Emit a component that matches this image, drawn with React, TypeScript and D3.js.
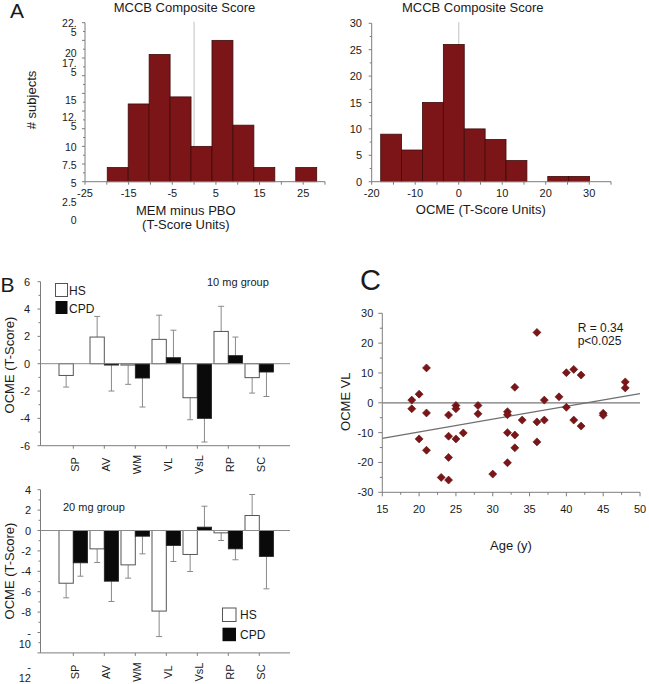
import React from "react";
import * as d3 from "d3";

// ---------------- Panel A data ----------------
const memBinStart = -19.9;
const memBinWidth = 4.8;
const memCounts = [2, 11, 18, 12, 5, 20, 8, 2, 0, 2];
const memXTickLabels = [-25, -15, -5, 5, 15, 25];
const memYTickLabelLines = [["22.", "5"], ["20"], ["17.", "5"], ["15"], ["12.", "5"], ["10"], ["7.5"], ["5"], ["2.5"], ["0"]];

const ocmeBinStart = -17.93;
const ocmeBinWidth = 4.8;
const ocmeCounts = [9, 6, 15, 26, 10, 8, 4, 0, 1, 1];
const ocmeXTickLabels = [-20, -10, 0, 10, 20, 30];
const ocmeYTickLabels = [0, 5, 10, 15, 20, 25, 30];

// ---------------- Panel B data ----------------
const domains = ["SP", "AV", "WM", "VL", "VsL", "RP", "SC"];
const hs10 = [-0.86, 1.95, -0.1, 1.78, -2.49, 2.36, -1.02];
const hs10Err = [0.85, 1.51, 1.41, 1.77, 1.61, 1.84, 1.13];
const cpd10 = [0, -0.1, -1.05, 0.44, -4.0, 0.59, -0.61];
const cpd10Err = [0, 1.9, 2.12, 2.01, 1.73, 1.36, 1.79];
const hs20 = [-5.17, -1.8, -3.37, -7.9, -2.35, -0.23, 1.47];
const hs20Err = [1.43, 1.34, 1.3, 2.5, 1.67, 0.75, 2.06];
const cpd20 = [-3.17, -4.97, -0.56, -1.47, 0.33, -1.8, -2.55];
const cpd20Err = [1.31, 1.99, 1.73, 1.57, 2.05, 1.07, 3.17];
const bTopYTicks = [6, 4, 2, 0, -2, -4, -6];
const bBottomYTickLabelLines = [["4"], ["2"], ["0"], ["-2"], ["-4"], ["-6"], ["-8"], ["-", "10"], ["-", "12"]];
const bBottomYTickValues = [4, 2, 0, -2, -4, -6, -8, -10, -12];

// ---------------- Panel C data ----------------
const ages = [19, 19, 20, 20, 21, 21, 21, 23, 24, 24, 24, 24, 25, 25, 25, 26, 28, 28, 30, 32, 32, 32, 32, 33, 33, 33, 34, 36, 36, 36, 37, 37, 39, 40, 40, 41, 41, 42, 42, 45, 45, 48, 48];
const ocmeVL = [0.9, -2.0, 2.9, -12.1, 11.7, -3.4, -15.9, -25.0, -4.1, -11.2, -18.3, -25.9, -0.9, -2.0, -12.1, -10.1, -0.9, -3.7, -23.9, -3.0, -4.0, -10.0, -20.1, 5.2, -10.8, -15.1, -5.8, 23.6, -6.4, -13.1, 0.9, -5.8, 2.0, 10.1, -1.5, 11.2, -5.8, 9.3, -7.8, -3.5, -4.2, 7.0, 5.0];
const regressionLine: [number, number][] = [[15, -11.9], [50, 3.1]];
const corrText = ["R = 0.34", "p<0.025"];
const cXTicks = [15, 20, 25, 30, 35, 40, 45, 50];
const cYTicks = [30, 20, 10, 0, -10, -20, -30];

const FONT = "'Liberation Sans', Arial, Helvetica, sans-serif";
const RED = "#7c1517";
const RED_EDGE = "#3e0b0b";
const AXIS = "#7d7d7d";
const TXT = "#1a1a1a";

function Histogram({ counts, start, width, x, y, x0Axis, x1Axis, xTickMin, xTickMax, yMajor, yMinor }: any) {
  const [yb, yt] = y.range();
  const xTicks = d3.range(xTickMin, xTickMax + 0.01, 5);
  return (
    <g>
      <line x1={x(0)} x2={x(0)} y1={yt - 1} y2={yb} stroke="#cfcfcf" strokeWidth={1.3} />
      {counts.map((c: number, i: number) =>
        c > 0 ? (
          <rect key={i} x={x(start + i * width)} width={x(start + (i + 1) * width) - x(start + i * width)} y={y(c)} height={y(0) - y(c)} fill={RED} stroke={RED_EDGE} strokeWidth={0.8} />
        ) : null
      )}
      <line x1={x0Axis} x2={x0Axis} y1={yt} y2={yb} stroke={AXIS} strokeWidth={1} />
      <line x1={x0Axis} x2={x1Axis} y1={yb} y2={yb} stroke={AXIS} strokeWidth={1} />
      {xTicks.map((t: number) => (
        <line key={"xt" + t} x1={x(t)} x2={x(t)} y1={yb} y2={yb + 3} stroke={AXIS} />
      ))}
      {yMajor.map((t: number) => (
        <line key={"ym" + t} x1={x0Axis - 3} x2={x0Axis} y1={y(t)} y2={y(t)} stroke={AXIS} />
      ))}
      {yMinor.map((t: number) => (
        <line key={"yn" + t} x1={x0Axis - 2} x2={x0Axis} y1={y(t)} y2={y(t)} stroke={AXIS} />
      ))}
    </g>
  );
}

function BarPanel({ y, hs, hsErr, cpd, cpdErr, yMin, yMax, x }: any) {
  const axisX = 40.5;
  const right = 290;
  const bw = 14.3;
  const errLine = (cx: number, v: number, e: number, k: string) => {
    if (!e) return null;
    const end = v + (v >= 0 ? e : -e);
    return (
      <g key={k}>
        <line x1={cx} x2={cx} y1={y(v)} y2={y(end)} stroke="#8a8a8a" strokeWidth={1} />
        <line x1={cx - 3} x2={cx + 3} y1={y(end)} y2={y(end)} stroke="#8a8a8a" strokeWidth={1} />
      </g>
    );
  };
  return (
    <g>
      {domains.map((d, i) => {
        const cx = x(d);
        const h = hs[i];
        const c = cpd[i];
        return (
          <g key={d}>
            {errLine(cx - bw / 2, h, hsErr[i], "he")}
            {errLine(cx + bw / 2, c, cpdErr[i], "ce")}
            {h !== 0 && (
              <rect x={cx - bw} width={bw} y={y(Math.max(h, 0))} height={Math.max(0.8, Math.abs(y(h) - y(0)))} fill="#ffffff" stroke="#555" strokeWidth={1} />
            )}
            {c !== 0 && (
              <rect x={cx} width={bw} y={y(Math.max(c, 0))} height={Math.max(0.8, Math.abs(y(c) - y(0)))} fill="#0a0a0a" stroke="#222" strokeWidth={0.8} />
            )}
          </g>
        );
      })}
      <line x1={axisX} x2={right} y1={y(0)} y2={y(0)} stroke="#8a8a8a" strokeWidth={1} />
      <line x1={axisX} x2={axisX} y1={y(yMax)} y2={y(yMin)} stroke={AXIS} strokeWidth={1} />
      <line x1={axisX} x2={right} y1={y(yMin)} y2={y(yMin)} stroke={AXIS} strokeWidth={1} />
      {d3.range(yMin, yMax + 0.01, 1).map((t) => (
        <line key={"t" + t} x1={axisX - (t % 2 === 0 ? 3 : 2)} x2={axisX} y1={y(t)} y2={y(t)} stroke={AXIS} />
      ))}
      {domains.map((d) => (
        <line key={"xt" + d} x1={x(d)} x2={x(d)} y1={y(yMin)} y2={y(yMin) + 3} stroke={AXIS} />
      ))}
    </g>
  );
}

export default function App() {
  // Panel A scales
  const xL = d3.scaleLinear().domain([-25, 30]).range([85, 325]);
  const yL = d3.scaleLinear().domain([0, 22.5]).range([181.7, 22.7]);
  const xR = d3.scaleLinear().domain([-20, 35]).range([371.7, 611]);
  const yR = d3.scaleLinear().domain([0, 30]).range([181.7, 23.3]);
  const memLabelCenters = [22.7, 53.3, 62.5, 100, 117.3, 146.7, 165, 182.7, 201.7, 220];

  // Panel B scales
  const xB = d3.scalePoint<string>().domain(domains).range([73.3, 259.3]);
  const yBT = d3.scaleLinear().domain([-6, 6]).range([445.7, 281.7]);
  const yBB = d3.scaleLinear().domain([-12, 4]).range([652.9, 489.7]);
  const bottomLabelShift = [0, 0, 0, 0, 0, 0, 0, 0, 14];

  // Panel C scales
  const xC = d3.scaleLinear().domain([15, 50]).range([382.3, 640]);
  const yC = d3.scaleLinear().domain([-30, 30]).range([492.3, 313.3]);
  const regPath = d3.line<[number, number]>().x((d) => xC(d[0])).y((d) => yC(d[1]))(regressionLine) || "";

  return (
    <svg width={649} height={684} style={{ position: "absolute", left: 0, top: 0, background: "#fff" }} fontFamily={FONT}>
      <rect x={0} y={0} width={649} height={684} fill="#fff" />
      {/* ================= Panel A ================= */}
      <text x={10} y={18.3} fontSize={21} fill={TXT}>A</text>
      <text x={184.5} y={11.7} fontSize={13} textAnchor="middle" fill={TXT}>MCCB Composite Score</text>
      <text x={472.8} y={11.7} fontSize={13} textAnchor="middle" fill={TXT}>MCCB Composite Score</text>

      <Histogram counts={memCounts} start={memBinStart} width={memBinWidth} x={xL} y={yL} x0Axis={85} x1Axis={325} xTickMin={-25} xTickMax={30} yMajor={d3.range(0, 22.51, 2.5)} yMinor={d3.range(1.25, 22.5, 2.5)} />
      <Histogram counts={ocmeCounts} start={ocmeBinStart} width={ocmeBinWidth} x={xR} y={yR} x0Axis={371.7} x1Axis={611} xTickMin={-20} xTickMax={35} yMajor={d3.range(0, 30.01, 5)} yMinor={d3.range(2.5, 30, 5)} />

      {memYTickLabelLines.map((lines, i) =>
        lines.map((ln, j) => (
          <text key={"ml" + i + j} x={76.7} y={memLabelCenters[i] + j * 9} fontSize={10.5} textAnchor="end" dominantBaseline="central" fill={TXT}>{ln}</text>
        ))
      )}
      {memXTickLabels.map((t) => (
        <text key={"mx" + t} x={xL(t)} y={197} fontSize={11} textAnchor="middle" fill={TXT}>{t}</text>
      ))}
      {ocmeYTickLabels.map((t) => (
        <text key={"oy" + t} x={362} y={yR(t)} fontSize={11} textAnchor="end" dominantBaseline="central" fill={TXT}>{t}</text>
      ))}
      {ocmeXTickLabels.map((t) => (
        <text key={"ox" + t} x={xR(t)} y={197} fontSize={11} textAnchor="middle" fill={TXT}>{t}</text>
      ))}
      <text transform="translate(36,100) rotate(-90)" fontSize={13} textAnchor="middle" fill={TXT}># subjects</text>
      <text x={185.8} y={215} fontSize={13} textAnchor="middle" fill={TXT}>MEM minus PBO</text>
      <text x={185.8} y={229} fontSize={13} textAnchor="middle" fill={TXT}>(T-Score Units)</text>
      <text x={480.8} y={214} fontSize={13} textAnchor="middle" fill={TXT}>OCME (T-Score Units)</text>

      {/* ================= Panel B ================= */}
      <text x={0.5} y={292} fontSize={21} fill={TXT}>B</text>
      <BarPanel y={yBT} hs={hs10} hsErr={hs10Err} cpd={cpd10} cpdErr={cpd10Err} yMin={-6} yMax={6} x={xB} />
      {bTopYTicks.map((t) => (
        <text key={"bty" + t} x={30} y={yBT(t)} fontSize={11} textAnchor="end" dominantBaseline="central" fill={TXT}>{t}</text>
      ))}
      {domains.map((d) => (
        <text key={"btx" + d} transform={`translate(${(xB(d) as number) + 5.5},464.5) rotate(-90)`} fontSize={11} textAnchor="middle" fill={TXT}>{d}</text>
      ))}
      <text transform="translate(13.5,365) rotate(-90)" fontSize={13} textAnchor="middle" fill={TXT}>OCME (T-Score)</text>
      <text x={207} y={285.5} fontSize={11} fill={TXT}>10 mg group</text>
      <rect x={55.5} y={283.5} width={12} height={13} fill="#fff" stroke="#555" strokeWidth={1} />
      <text x={69} y={295} fontSize={12} fill={TXT}>HS</text>
      <rect x={55.5} y={301} width={12} height={13} fill="#0a0a0a" />
      <text x={69} y={312.5} fontSize={12} fill={TXT}>CPD</text>

      <BarPanel y={yBB} hs={hs20} hsErr={hs20Err} cpd={cpd20} cpdErr={cpd20Err} yMin={-12} yMax={4} x={xB} />
      {bBottomYTickLabelLines.map((lines, i) =>
        lines.map((ln, j) => (
          <text key={"bby" + i + j} x={31} y={yBB(bBottomYTickValues[i]) + bottomLabelShift[i] + j * 11} fontSize={11} textAnchor="end" dominantBaseline="central" fill={TXT}>{ln}</text>
        ))
      )}
      {domains.map((d) => (
        <text key={"bbx" + d} transform={`translate(${(xB(d) as number) + 5.5},672) rotate(-90)`} fontSize={11} textAnchor="middle" fill={TXT}>{d}</text>
      ))}
      <text transform="translate(13.5,571) rotate(-90)" fontSize={13} textAnchor="middle" fill={TXT}>OCME (T-Score)</text>
      <text x={63} y={510.5} fontSize={11} fill={TXT}>20 mg group</text>
      <rect x={222.5} y={608} width={13.5} height={13.5} fill="#fff" stroke="#555" strokeWidth={1} />
      <text x={240} y={618.5} fontSize={12} fill={TXT}>HS</text>
      <rect x={222.5} y={627.7} width={13.5} height={13.5} fill="#0a0a0a" />
      <text x={240} y={639} fontSize={12} fill={TXT}>CPD</text>

      {/* ================= Panel C ================= */}
      <text x={360} y={290} fontSize={29} fill={TXT}>C</text>
      <line x1={xC(15)} x2={xC(50)} y1={yC(0)} y2={yC(0)} stroke="#777" strokeWidth={1.2} />
      <path d={regPath} stroke="#6e6e6e" strokeWidth={1.2} fill="none" />
      <line x1={xC(15)} x2={xC(15)} y1={yC(30)} y2={yC(-30)} stroke={AXIS} />
      <line x1={xC(15)} x2={xC(50)} y1={yC(-30)} y2={yC(-30)} stroke={AXIS} />
      {d3.range(-30, 30.01, 5).map((t) => (
        <line key={"cyt" + t} x1={xC(15) - (t % 10 === 0 ? 4 : 2.5)} x2={xC(15)} y1={yC(t)} y2={yC(t)} stroke={AXIS} />
      ))}
      {d3.range(15, 50.01, 2.5).map((t) => (
        <line key={"cxt" + t} x1={xC(t)} x2={xC(t)} y1={yC(-30)} y2={yC(-30) + (t % 5 === 0 ? 4 : 2.5)} stroke={AXIS} />
      ))}
      {ages.map((a, i) => (
        <path key={"pt" + i} transform={`translate(${xC(a)},${yC(ocmeVL[i])})`} d="M0,-4L4,0L0,4L-4,0Z" fill={RED} stroke="#5a0d0d" strokeWidth={0.6} />
      ))}
      {cYTicks.map((t) => (
        <text key={"cyl" + t} x={373.3} y={yC(t)} fontSize={11} textAnchor="end" dominantBaseline="central" fill={TXT}>{t}</text>
      ))}
      {cXTicks.map((t) => (
        <text key={"cxl" + t} x={xC(t)} y={513} fontSize={11} textAnchor="middle" fill={TXT}>{t}</text>
      ))}
      <text transform="translate(350,401.7) rotate(-90)" fontSize={13} textAnchor="middle" fill={TXT}>OCME VL</text>
      <text x={511} y={550} fontSize={13} textAnchor="middle" fill={TXT}>Age (y)</text>
      {corrText.map((t, i) => (
        <text key={"ct" + i} x={577.7} y={332.3 + i * 12.8} fontSize={12} fill={TXT}>{t}</text>
      ))}
    </svg>
  );
}
